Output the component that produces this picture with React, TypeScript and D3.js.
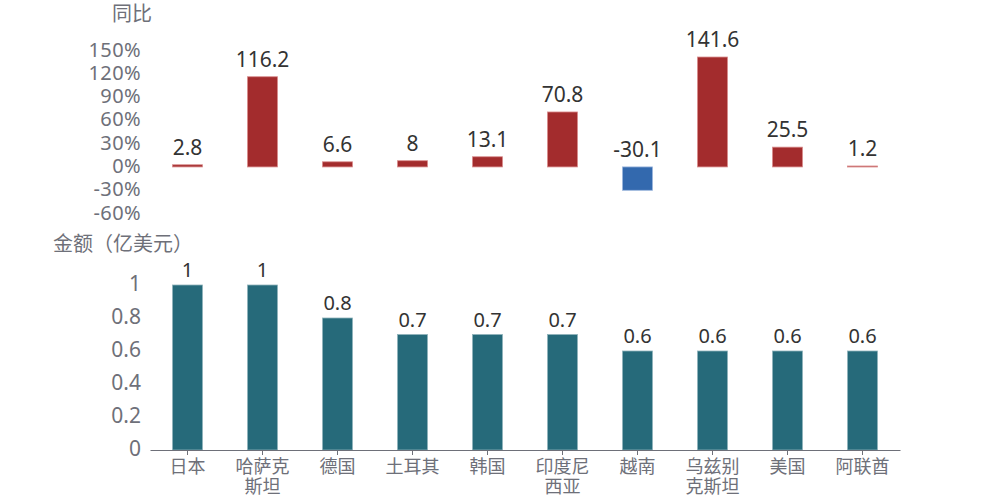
import React, { useEffect, useRef } from 'react';
import * as d3 from 'd3';

const countries = ['日本', '哈萨克\n斯坦', '德国', '土耳其', '韩国', '印度尼\n西亚', '越南', '乌兹别\n克斯坦', '美国', '阿联酋'];
const yoy = [2.8, 116.2, 6.6, 8, 13.1, 70.8, -30.1, 141.6, 25.5, 1.2];
const amount = [1, 1, 0.8, 0.7, 0.7, 0.7, 0.6, 0.6, 0.6, 0.6];
const yoyTicks = [-60, -30, 0, 30, 60, 90, 120, 150];
const amountTicks = [0, 0.2, 0.4, 0.6, 0.8, 1];

const FONT = '"Noto Sans", "Noto Sans CJK SC", sans-serif';

const App: React.FC = () => {
	const svgRef = useRef<SVGSVGElement | null>(null);

	useEffect(() => {
		if (svgRef.current == null) return;
		const svg = d3.select(svgRef.current);
		svg.selectAll('*').remove();

		const x = d3.scaleBand<string>()
			.domain(countries)
			.range([150, 900])
			.paddingInner(0.6)
			.paddingOuter(0.3);

		// top: year-on-year
		const yTop = d3.scaleLinear().domain([-60, 150]).range([213.5, 50.5]);

		const top = svg.append('g');
		top.selectAll('text.tick')
			.data(yoyTicks)
			.enter().append('text')
			.attr('x', 141)
			.attr('y', d => yTop(d))
			.attr('dy', '0.3em')
			.attr('text-anchor', 'end')
			.attr('fill', '#6e7079')
			.attr('font-size', 20)
			.attr('letter-spacing', 0.4)
			.text(d => `${d}%`);

		top.append('text')
			.attr('x', 152).attr('y', 21)
			.attr('text-anchor', 'end')
			.attr('fill', '#6e7079')
			.attr('font-size', 20)
			.text('同比');

		top.selectAll('rect')
			.data(yoy)
			.enter().append('rect')
			.attr('x', (_, i) => x(countries[i])!)
			.attr('width', x.bandwidth())
			.attr('y', d => yTop(Math.max(0, d)))
			.attr('height', d => Math.max(1, Math.abs(yTop(d) - yTop(0))))
			.attr('fill', d => d < 0 ? '#3369ae' : '#a32c2d')
			.attr('stroke', d => d < 0 ? '#9bb6dd' : '#d98c8c')
			.attr('stroke-width', 0.8);

		top.selectAll('text.val')
			.data(yoy)
			.enter().append('text')
			.attr('x', (_, i) => x(countries[i])! + x.bandwidth() / 2)
			.attr('y', d => d < 0 ? yTop(0) - 10 : yTop(d) - 10)
			.attr('text-anchor', 'middle')
			.attr('fill', '#333')
			.attr('font-size', 21)
			.text(d => String(d));

		// bottom: amount
		const yBot = d3.scaleLinear().domain([0, 1]).range([450, 285]);
		const bot = svg.append('g');

		bot.selectAll('text.tick')
			.data(amountTicks)
			.enter().append('text')
			.attr('x', 141)
			.attr('y', d => yBot(d))
			.attr('dy', '0.3em')
			.attr('text-anchor', 'end')
			.attr('fill', '#6e7079')
			.attr('font-size', 21)
			.text(d => String(d));

		bot.append('text')
			.attr('x', 53).attr('y', 251)
			.attr('fill', '#6e7079')
			.attr('font-size', 20)
			.text('金额（亿美元）');

		bot.selectAll('rect')
			.data(amount)
			.enter().append('rect')
			.attr('x', (_, i) => x(countries[i])!)
			.attr('width', x.bandwidth())
			.attr('y', d => yBot(d))
			.attr('height', d => yBot(0) - yBot(d))
			.attr('fill', '#266a7a')
			.attr('stroke', '#8fb3bb')
			.attr('stroke-width', 0.8);

		bot.selectAll('text.val')
			.data(amount)
			.enter().append('text')
			.attr('x', (_, i) => x(countries[i])! + x.bandwidth() / 2)
			.attr('y', d => yBot(d) - 8)
			.attr('text-anchor', 'middle')
			.attr('fill', '#333')
			.attr('font-size', 20)
			.text(d => String(d));

		const axis = bot.append('g')
			.attr('transform', `translate(0,${yBot(0)})`)
			.call(d3.axisBottom(x).tickSize(5).tickSizeOuter(0).tickFormat(() => ''));
		axis.select('.domain').attr('stroke', '#6e7079');
		axis.selectAll('.tick line').attr('stroke', '#6e7079');

		const labels = axis.selectAll<SVGGElement, string>('.tick').append('text')
			.attr('fill', '#6e7079')
			.attr('font-size', 18)
			.attr('font-family', FONT)
			.attr('text-anchor', 'middle');
		labels.each(function (d) {
			const lines = d.split('\n');
			const t = d3.select(this);
			lines.forEach((ln, k) => {
				t.append('tspan').attr('x', 0).attr('y', 23 + k * 20).text(ln);
			});
		});
	}, []);

	return (
		<svg ref={svgRef} width={1000} height={500}
			style={{ position: 'absolute', left: 0, top: 0, fontFamily: FONT }} />
	);
};

export default App;
